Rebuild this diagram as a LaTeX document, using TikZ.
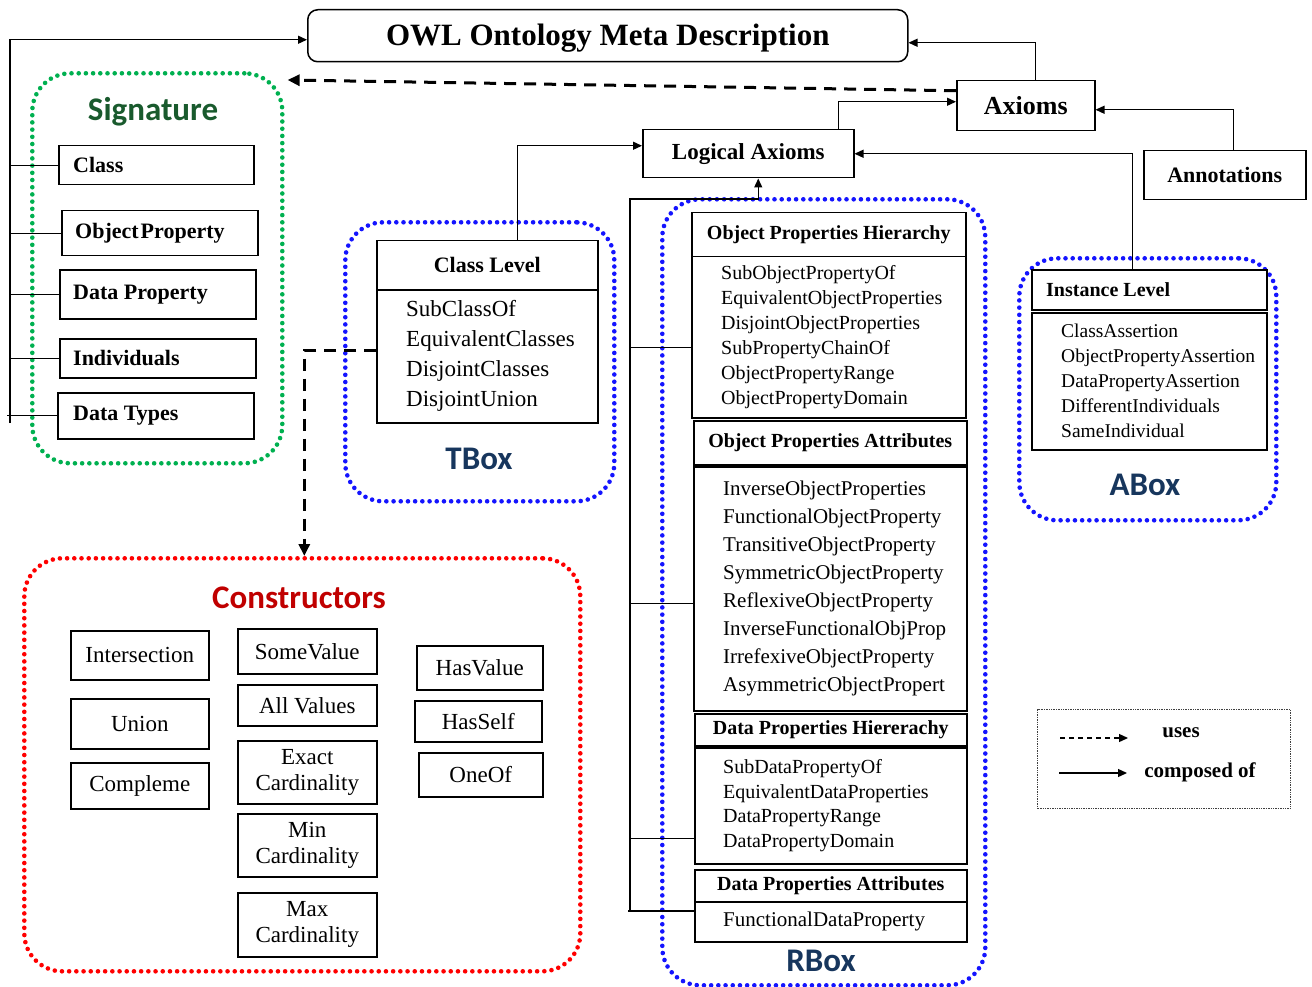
\documentclass[tikz,border=0pt]{standalone}
\usepackage{fontspec}
\setmainfont{Liberation Serif}
\newfontfamily\grpfont{Carlito}
\usetikzlibrary{arrows.meta,calc}
\newcommand\fsz[2]{\fontsize{#1}{#2}\selectfont}
\definecolor{sigtitle}{RGB}{25,90,45}
\definecolor{boxtitle}{RGB}{23,54,93}
\definecolor{constitle}{RGB}{192,0,0}
\definecolor{dotgreen}{RGB}{0,176,80}
\definecolor{dotblue}{RGB}{20,20,255}
\definecolor{dotred}{RGB}{255,0,0}
\begin{document}
\begin{tikzpicture}[x=1pt,y=-1pt,
  frame/.style={draw, fill=white, line width=1.5pt, inner sep=0pt, anchor=north west},
  group/.style={draw, line width=4.6pt, dash pattern=on 0pt off 7.2pt, line cap=round,
    rounded corners=38pt, anchor=north west, inner sep=0pt},
  grouplabel/.style={font=\grpfont\bfseries\fsz{33}{36}, inner sep=0pt},
  sigtext/.style={anchor=west, inner sep=0pt, font=\bfseries\fsz{22}{26}},
  consbox/.style={frame, align=center, font=\fsz{23}{26}},
  hdr/.style={frame, font=\bfseries\fsz{20}{24}},
  listtext/.style={anchor=west, align=left, inner sep=0pt},
  link/.style={line width=1.3pt, -{Triangle[length=9pt,width=8pt]}},
  plainlink/.style={line width=1.3pt},
  useslink/.style={line width=3pt, dash pattern=on 12pt off 8pt, -{Triangle[length=12pt,width=11pt]}}]
\useasboundingbox (0,0) rectangle (1312,987);

% ---------- group frames ----------
\node[group, draw=dotgreen, minimum width=250pt, minimum height=390pt] (sig) at (30,71) {};
\node[group, draw=dotblue, minimum width=269pt, minimum height=279pt] (tbox) at (343,220) {};
\node[group, draw=dotblue, minimum width=323pt, minimum height=786pt] (rbox) at (660,197) {};
\node[group, draw=dotblue, minimum width=257pt, minimum height=262pt] (abox) at (1017,256) {};
\node[group, draw=dotred, minimum width=556pt, minimum height=413pt] (cons) at (22,556) {};

\node[grouplabel, text=sigtitle] (sigtxt) at (153,112) {Signature};
\node[grouplabel, text=boxtitle] (tboxtxt) at (479,459) {TBox};
\node[grouplabel, text=boxtitle] (rboxtxt) at (821,961) {RBox};
\node[grouplabel, text=boxtitle] (aboxtxt) at (1145,485) {ABox};
\node[grouplabel, text=constitle] (constxt) at (299,598) {Constructors};

% ---------- top level ----------
\node[frame, rounded corners=10pt, minimum width=600pt, minimum height=52pt] (title) at (307,9) {};
\node[inner sep=0pt, font=\bfseries\fsz{31}{34}] (titletxt) at ([yshift=-2pt]title.center) {OWL Ontology Meta Description};
\node[frame, minimum width=138pt, minimum height=50pt, font=\bfseries\fsz{26}{30}] (axioms) at (956,80) {Axioms};
\node[frame, minimum width=211pt, minimum height=48pt, font=\bfseries\fsz{23}{27}] (logical) at (642,129) {Logical Axioms};
\node[frame, minimum width=162pt, minimum height=49pt, font=\bfseries\fsz{22}{26}] (annot) at (1143,150) {Annotations};

% ---------- signature ----------
\node[frame, minimum width=195pt, minimum height=39pt] (class) at (58,145) {};
\node[frame, minimum width=196pt, minimum height=45pt] (objprop) at (61,210) {};
\node[frame, minimum width=196pt, minimum height=49pt] (dataprop) at (59,269) {};
\node[frame, minimum width=196pt, minimum height=39pt] (indiv) at (59,338) {};
\node[frame, minimum width=196pt, minimum height=46pt] (dtypes) at (57,392) {};
\node[sigtext] (classtxt) at ([xshift=15pt]class.west) {Class};
\node[sigtext] (objproptxt) at ([xshift=14pt]objprop.west) {Object\hspace{2pt}Property};
\node[sigtext] (dataproptxt) at ([xshift=14pt]dataprop.west) {Data Property};
\node[sigtext] (indivtxt) at ([xshift=14pt]indiv.west) {Individuals};
\node[sigtext] (dtypestxt) at ([xshift=16pt]dtypes.west) {Data Types};

% ---------- TBox ----------
\node[hdr, minimum width=221pt, minimum height=49pt, font=\bfseries\fsz{22}{26}] (clhead) at (376,240) {Class Level};
\node[frame, minimum width=221pt, minimum height=133pt] (clbody) at (376,289) {};
\node[listtext, font=\fsz{23}{30}] (cltxt) at ([xshift=30pt]clbody.west)
  {SubClassOf\\EquivalentClasses\\DisjointClasses\\DisjointUnion};

% ---------- RBox ----------
\node[hdr, minimum width=274pt, minimum height=44pt] (ophhead) at (691,212) {Object Properties Hierarchy};
\node[frame, minimum width=274pt, minimum height=161pt] (ophbody) at (691,256) {};
\node[listtext, font=\fsz{20}{25}] (ophtxt) at ([xshift=30pt]ophbody.west)
  {SubObjectPropertyOf\\EquivalentObjectProperties\\DisjointObjectProperties\\SubPropertyChainOf\\ObjectPropertyRange\\ObjectPropertyDomain};

\node[hdr, minimum width=273pt, minimum height=44pt] (opahead) at (693,420) {Object Properties Attributes};
\node[frame, minimum width=273pt, minimum height=244pt] (opabody) at (693,466) {};
\node[listtext, font=\fsz{21}{28}] (opatxt) at ([xshift=30pt]opabody.west)
  {InverseObjectProperties\\FunctionalObjectProperty\\TransitiveObjectProperty\\SymmetricObjectProperty\\ReflexiveObjectProperty\\InverseFunctionalObjProp\\IrrefexiveObjectProperty\\AsymmetricObjectPropert};

\node[hdr, minimum width=272pt, minimum height=32pt] (dphhead) at (694,713) {Data Properties Hiererachy};
\node[frame, minimum width=272pt, minimum height=116pt] (dphbody) at (694,747) {};
\node[listtext, font=\fsz{20}{24.7}] (dphtxt) at ([xshift=29pt]dphbody.west)
  {SubDataPropertyOf\\EquivalentDataProperties\\DataPropertyRange\\DataPropertyDomain};

\node[hdr, minimum width=272pt, minimum height=32pt] (dpahead) at (694,869) {Data Properties Attributes};
\node[frame, minimum width=272pt, minimum height=40pt] (dpabody) at (694,901) {};
\node[listtext, font=\fsz{21}{25}] (dpatxt) at ([xshift=29pt]dpabody.west) {FunctionalDataProperty};

% ---------- ABox ----------
\node[hdr, minimum width=235pt, minimum height=40pt] (ilhead) at (1031,269) {};
\node[anchor=west, inner sep=0pt, font=\bfseries\fsz{20}{24}] (iltxt) at ([xshift=15pt]ilhead.west) {Instance Level};
\node[frame, minimum width=235pt, minimum height=137pt] (ilbody) at (1031,312) {};
\node[listtext, font=\fsz{19.5}{25}] (iltxtb) at ([xshift=30pt]ilbody.west)
  {ClassAssertion\\ObjectPropertyAssertion\\DataPropertyAssertion\\DifferentIndividuals\\SameIndividual};

% ---------- constructors ----------
\node[consbox, minimum width=138pt, minimum height=49pt] (inter) at (70,630) {Intersection};
\node[consbox, minimum width=138pt, minimum height=50pt] (union) at (70,698) {Union};
\node[consbox, minimum width=138pt, minimum height=46pt] (compl) at (70,762) {Compleme};
\node[consbox, minimum width=139pt, minimum height=45pt] (some) at (237,628) {SomeValue};
\node[consbox, minimum width=139pt, minimum height=41pt] (allv) at (237,684) {All Values};
\node[consbox, minimum width=139pt, minimum height=63pt] (exact) at (237,740) {Exact\\Cardinality};
\node[consbox, minimum width=139pt, minimum height=63pt] (minc) at (237,813) {Min\\Cardinality};
\node[consbox, minimum width=139pt, minimum height=64pt] (maxc) at (237,892) {Max\\Cardinality};
\node[consbox, minimum width=126pt, minimum height=44pt] (hasv) at (416,645) {HasValue};
\node[consbox, minimum width=127pt, minimum height=41pt] (hass) at (414,700) {HasSelf};
\node[consbox, minimum width=124pt, minimum height=44pt] (oneof) at (418,752) {OneOf};

% ---------- connectors ----------
% signature bus
\coordinate (sigbus) at (10,423);
\draw[link] (sigbus) |- ([yshift=-4pt]title.west);
\foreach \n in {class,objprop,dataprop,indiv}
  \draw[plainlink] (sigbus |- \n.west) -- (\n.west);
\draw[plainlink] ([xshift=-3pt]sigbus |- dtypes.west) -- (dtypes.west);

% axioms hierarchy
\draw[link] ([xshift=10pt]axioms.north) |- ([yshift=-7pt]title.east);
\draw[link] ([xshift=9pt]annot.north) |- ([yshift=-4pt]axioms.east);
\draw[link] ([xshift=90pt]logical.north) |- ([yshift=4pt]axioms.west);
\draw[link] ([xshift=30pt]clhead.north) |- ([yshift=8pt]logical.west);
\draw[link] ([xshift=-17pt]ilhead.north) |- (logical.east);

% RBox bus
\coordinate (rbtop) at (630,199);
\coordinate (rbbot) at (630,911);
\draw[link] (rbbot) -- (rbtop) -| ([xshift=10pt]logical.south);
\draw[plainlink] ([yshift=-10pt]ophbody.west -| rbtop) -- ([yshift=-10pt]ophbody.west);
\draw[plainlink] ([yshift=-15pt]opabody.west -| rbtop) -- ([yshift=-15pt]opabody.west);
\draw[plainlink] ([yshift=-33pt]dphbody.west -| rbtop) -- ([yshift=-33pt]dphbody.west);
\draw[plainlink] ([xshift=-2pt]rbbot) -- (dpabody.west |- rbbot);

% "uses" relations
\draw[useslink] ([yshift=15pt]axioms.west) -- ([shift={(3pt,-9pt)}]sig.north east);
\draw[useslink] ([yshift=6pt]clbody.west) -| ([xshift=2pt]cons.north);

% ---------- legend ----------
\node[draw=black!75, line width=1.4pt, densely dotted, anchor=north west, inner sep=0pt,
  minimum width=253pt, minimum height=99pt] (legend) at (1037,709) {};
\coordinate (u1) at (1060,738);
\coordinate (u2) at (1128,738);
\draw[line width=1.3pt, dash pattern=on 5pt off 4pt, -{Triangle[length=9pt,width=8pt]}] (u1) -- (u2);
\node[inner sep=0pt, font=\bfseries\fsz{21}{24}] (usestxt) at (1181,733) {uses};
\coordinate (c1) at (1059,773);
\coordinate (c2) at (1127,773);
\draw[link] (c1) -- (c2);
\node[inner sep=0pt, font=\bfseries\fsz{21}{24}] (comptxt) at (1200,772) {composed of};
\end{tikzpicture}
\end{document}
